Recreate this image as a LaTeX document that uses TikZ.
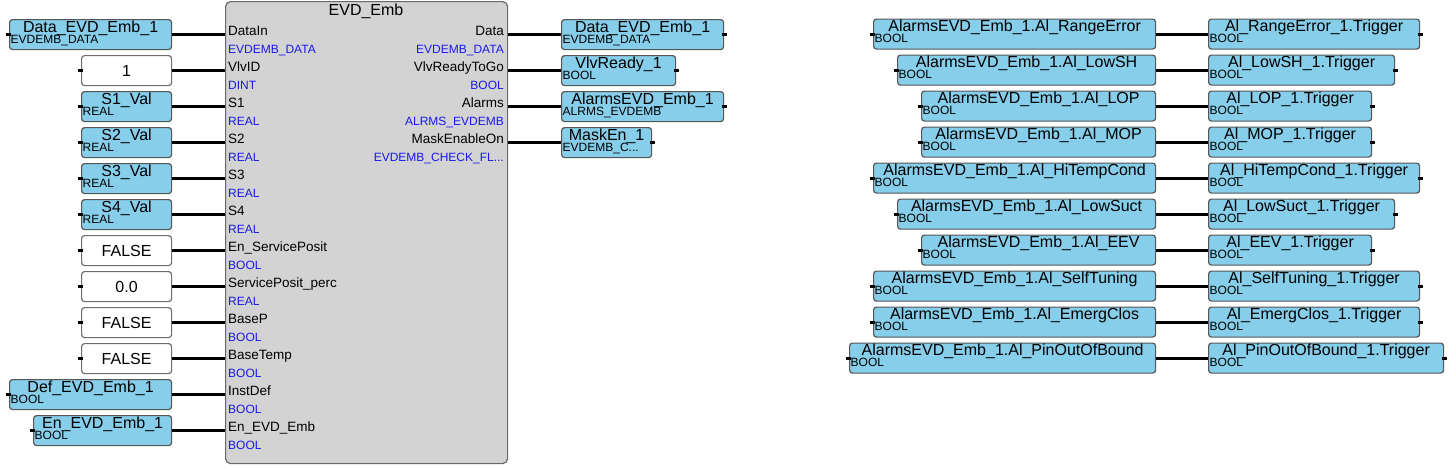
\documentclass[tikz,border=0pt]{standalone}
\usepackage{fontspec}
\setmainfont{Liberation Sans}
\newcommand\tdots{...}
\definecolor{boxblue}{RGB}{135,206,235}
\definecolor{boxedge}{RGB}{85,85,85}
\definecolor{constedge}{RGB}{110,110,110}
\definecolor{blkfill}{RGB}{211,211,211}
\definecolor{blkedge}{RGB}{105,105,105}
\definecolor{typeblue}{RGB}{25,25,235}
\tikzset{
 varbox/.style={draw=boxedge, line width=1.2pt, fill=boxblue, rounded corners=3pt, minimum height=30pt, inner sep=0pt, anchor=north west},
 constbox/.style={draw=constedge, line width=1.2pt, fill=white, rounded corners=3pt, minimum height=30pt, inner sep=0pt, anchor=north west, font=\fontsize{16}{16}\selectfont},
 fbblock/.style={draw=blkedge, line width=1.2pt, fill=blkfill, rounded corners=5pt, inner sep=0pt, anchor=north west},
 nametext/.style={font=\fontsize{16}{16}\selectfont, inner sep=0pt, anchor=base},
 typetext/.style={font=\fontsize{12}{12}\selectfont, inner sep=0pt, anchor=base west, text=black},
 pinname/.style={font=\fontsize{13.5}{14}\selectfont, inner sep=0pt},
 pintype/.style={font=\fontsize{12}{12}\selectfont, inner sep=0pt, text=typeblue},
 wire/.style={line width=2.8pt, black},
 stub/.style={line width=2.8pt, black},
}
\begin{document}
\begin{tikzpicture}[x=1pt,y=-1pt]
\useasboundingbox (0,0) rectangle (1450,466);
% function block
\node[fbblock, minimum width=282pt, minimum height=462pt] (blk) at (225,1) {};
\node[nametext, anchor=center] (title) at (366,11) {EVD\_Emb};
% left pins
\foreach \k/\pn/\pt in {0/DataIn/EVDEMB\_DATA, 1/VlvID/DINT, 2/S1/REAL, 3/S2/REAL, 4/S3/REAL, 5/S4/REAL, 6/En\_ServicePosit/BOOL, 7/ServicePosit\_perc/REAL, 8/BaseP/BOOL, 9/BaseTemp/BOOL, 10/InstDef/BOOL, 11/En\_EVD\_Emb/BOOL} {
 \node[pinname, anchor=base west] (pinL\k) at (228, 35+36*\k) {\pn};
 \node[pintype, anchor=base west] (typL\k) at (228, 53+36*\k) {\pt};
}
% right pins
\foreach \k/\pn/\pt in {0/Data/EVDEMB\_DATA, 1/VlvReadyToGo/BOOL, 2/Alarms/ALRMS\_EVDEMB, 3/MaskEnableOn/EVDEMB\_CHECK\_FL\tdots} {
 \node[pinname, anchor=base east] (pinR\k) at (504, 35+36*\k) {\pn};
 \node[pintype, anchor=base east] (typR\k) at (504, 53+36*\k) {\pt};
}
% input variables
\foreach \k/\lx/\w/\nm/\ty in {0/9/162/Data\_EVD\_Emb\_1/EVDEMB\_DATA, 2/81/90/S1\_Val/REAL, 3/81/90/S2\_Val/REAL, 4/81/90/S3\_Val/REAL, 5/81/90/S4\_Val/REAL, 10/9/162/Def\_EVD\_Emb\_1/BOOL, 11/33/138/En\_EVD\_Emb\_1/BOOL} {
 \node[varbox, minimum width=\w pt] (inb\k) at (\lx, 19+36*\k) {};
 \node[nametext] (inbn\k) at ([yshift=-13pt]inb\k.north) {\nm};
 \node[typetext] (inbt\k) at ([xshift=1.5pt, yshift=-24pt]inb\k.north west) {\ty};
 \draw[stub] ([xshift=-3pt]inb\k.west) -- ([xshift=2pt]inb\k.west);
 \draw[wire] (inb\k.east) -- (inb\k.east -| blk.west);
}
% input constants
\foreach \k/\txt in {1/1, 6/FALSE, 7/0.0, 8/FALSE, 9/FALSE} {
 \node[constbox, minimum width=90pt] (inb\k) at (81, 19+36*\k) {\txt};
 \draw[stub] ([xshift=-3pt]inb\k.west) -- ([xshift=2pt]inb\k.west);
 \draw[wire] (inb\k.east) -- (inb\k.east -| blk.west);
}
% output variables
\foreach \k/\w/\nm/\ty in {0/162/Data\_EVD\_Emb\_1/EVDEMB\_DATA, 1/114/VlvReady\_1/BOOL, 2/162/AlarmsEVD\_Emb\_1/ALRMS\_EVDEMB, 3/90/MaskEn\_1/EVDEMB\_C\tdots} {
 \node[varbox, minimum width=\w pt] (outb\k) at (561, 19+36*\k) {};
 \node[nametext] (outbn\k) at ([yshift=-13pt]outb\k.north) {\nm};
 \node[typetext] (outbt\k) at ([xshift=1.5pt, yshift=-24pt]outb\k.north west) {\ty};
 \draw[stub] ([xshift=-2pt]outb\k.east) -- ([xshift=3pt]outb\k.east);
 \draw[wire] (blk.east |- outb\k.west) -- (outb\k.west);
}
% alarm links
\foreach \k/\lx/\lw/\rw/\al in {0/873/282/211/RangeError, 1/897/258/186/LowSH, 2/921/234/163/LOP, 3/921/234/163/MOP, 4/873/282/211/HiTempCond, 5/897/258/186/LowSuct, 6/921/234/163/EEV, 7/873/282/211/SelfTuning, 8/873/282/211/EmergClos, 9/849/306/235/PinOutOfBound} {
 \node[varbox, minimum width=\lw pt] (alA\k) at (\lx, 18.5+36*\k) {};
 \node[nametext] (alAn\k) at ([yshift=-13pt]alA\k.north) {AlarmsEVD\_Emb\_1.Al\_\al};
 \node[typetext] (alAt\k) at ([xshift=1.5pt, yshift=-24pt]alA\k.north west) {BOOL};
 \draw[stub] ([xshift=-3pt]alA\k.west) -- ([xshift=2pt]alA\k.west);
 \node[varbox, minimum width=\rw pt] (alB\k) at (1208, 18.5+36*\k) {};
 \node[nametext] (alBn\k) at ([yshift=-13pt]alB\k.north) {Al\_\al\_1.Trigger};
 \node[typetext] (alBt\k) at ([xshift=1.5pt, yshift=-24pt]alB\k.north west) {BOOL};
 \draw[stub] ([xshift=-2pt]alB\k.east) -- ([xshift=3pt]alB\k.east);
 \draw[wire] (alA\k.east) -- (alB\k.west);
}
\end{tikzpicture}
\end{document}
